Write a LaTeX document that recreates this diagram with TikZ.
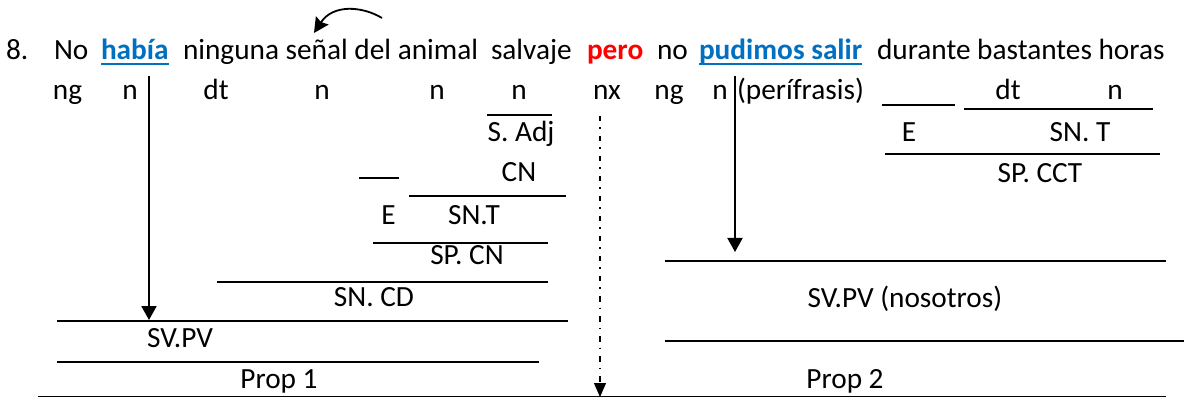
\documentclass[tikz,border=0pt]{standalone}
\usepackage{fontspec}
\setmainfont{Carlito}
\usetikzlibrary{arrows.meta}
\definecolor{wblue}{HTML}{0070C0}
\definecolor{wred}{HTML}{FF0000}
\begin{document}
\begin{tikzpicture}[x=1pt,y=-1pt,
  every node/.style={inner sep=0pt,outer sep=0pt,font=\fontsize{29.3}{33}\selectfont},
  wd/.style={anchor=base west},
  lb/.style={anchor=base},
  hl/.style={font=\fontsize{29.3}{33}\selectfont\bfseries,text=wblue},
  ul/.style={draw=wblue,line width=2pt},
  tl/.style={line width=1.6pt},
  varrow/.style={line width=2pt,-{Triangle[length=14pt,width=15pt]}},
  dd/.style={line width=1.2pt,dash pattern=on 5.5pt off 6pt on 1.5pt off 7pt,-{Triangle[length=14pt,width=12pt]}}]
\useasboundingbox (0,0) rectangle (1184,398);
% sentence
\node[wd] (w8) at (6,60) {8.};
\node[wd] (wno) at (54,60) {No};
\node[wd,hl] (whab) at (101,60) {había};
\node[wd] (wning) at (183,60) {ninguna señal del animal};
\node[wd] (wsal) at (491,60) {salvaje};
\node[wd,font=\fontsize{29.3}{33}\selectfont\bfseries,text=wred] (wpero) at (587,60) {pero};
\node[wd] (wno2) at (657,60) {no};
\node[wd,hl] (wpud) at (699,60) {pudimos salir};
\node[wd] (wdur) at (877,60) {durante bastantes horas};
\draw[ul] (whab.west |- 0,64) -- (whab.east |- 0,64);
\draw[ul] (wpud.west |- 0,64) -- (wpud.east |- 0,64);
% curved arrow
\coordinate (ca1) at (382,18);
\coordinate (ca2) at (314,33);
\draw[line width=1.8pt,-{Stealth[length=15pt,width=15pt,inset=2pt]}] (ca1) .. controls (362,6) and (333,4) .. (ca2);
% row 2
\node[lb] (r1) at (67.5,100) {ng};
\node[lb] (r2) at (130,100) {n};
\node[lb] (r3) at (216,100) {dt};
\node[lb] (r4) at (322,100) {n};
\node[lb] (r5) at (437,100) {n};
\node[lb] (r6) at (519,100) {n};
\node[lb] (r7) at (607,100) {nx};
\node[lb] (r8) at (669,100) {ng};
\node[lb] (r9) at (720,100) {n};
\node[wd] (r10) at (737,100) {(perífrasis)};
\node[lb] (r11) at (1008,100) {dt};
\node[lb] (r12) at (1115,100) {n};
% left analysis
\draw[tl] (487,115) -- (552,115);
\node[lb] (sadj) at (521,142) {S. Adj};
\draw[tl] (359,178) -- (399,178);
\node[lb] (cn) at (519,182) {CN};
\draw[tl] (409,196) -- (566,196);
\node[lb] (e1) at (388.5,225) {E};
\node[lb] (snt1) at (474,225) {SN.T};
\draw[tl] (373,243) -- (548,243);
\node[lb] (spcn) at (467,265) {SP. CN};
\draw[tl] (217,282) -- (548,282);
\node[lb] (sncd) at (374,306) {SN. CD};
\draw[tl] (57,321) -- (568,321);
\node[lb] (svpv1) at (180,347) {SV.PV};
\draw[tl] (57,362) -- (539,362);
\node[lb] (prop1) at (279,388) {Prop 1};
\draw[tl] (38,396.5) -- (1166,396.5);
% right analysis
\draw[tl] (882,105) -- (955,105);
\draw[tl] (964,109) -- (1153,109);
\node[lb] (e2) at (909,142) {E};
\node[lb] (snt2) at (1080,142) {SN. T};
\draw[tl] (885,154) -- (1160,154);
\node[lb] (spcct) at (1040,183) {SP. CCT};
\draw[tl] (665,261) -- (1166,261);
\node[lb] (svpv2) at (905,308) {SV.PV (nosotros)};
\draw[tl] (665,341) -- (1184,341);
\node[lb] (prop2) at (845,388) {Prop 2};
% arrows
\coordinate (a1s) at (149,76);
\coordinate (a1e) at (149,320);
\draw[varrow] (a1s) -- (a1e);
\coordinate (a2s) at (735,76);
\coordinate (a2e) at (735,252);
\draw[varrow] (a2s) -- (a2e);
\coordinate (a3s) at (600,116);
\coordinate (a3e) at (600,397);
\draw[dd] (a3s) -- (a3e);
\end{tikzpicture}
\end{document}
